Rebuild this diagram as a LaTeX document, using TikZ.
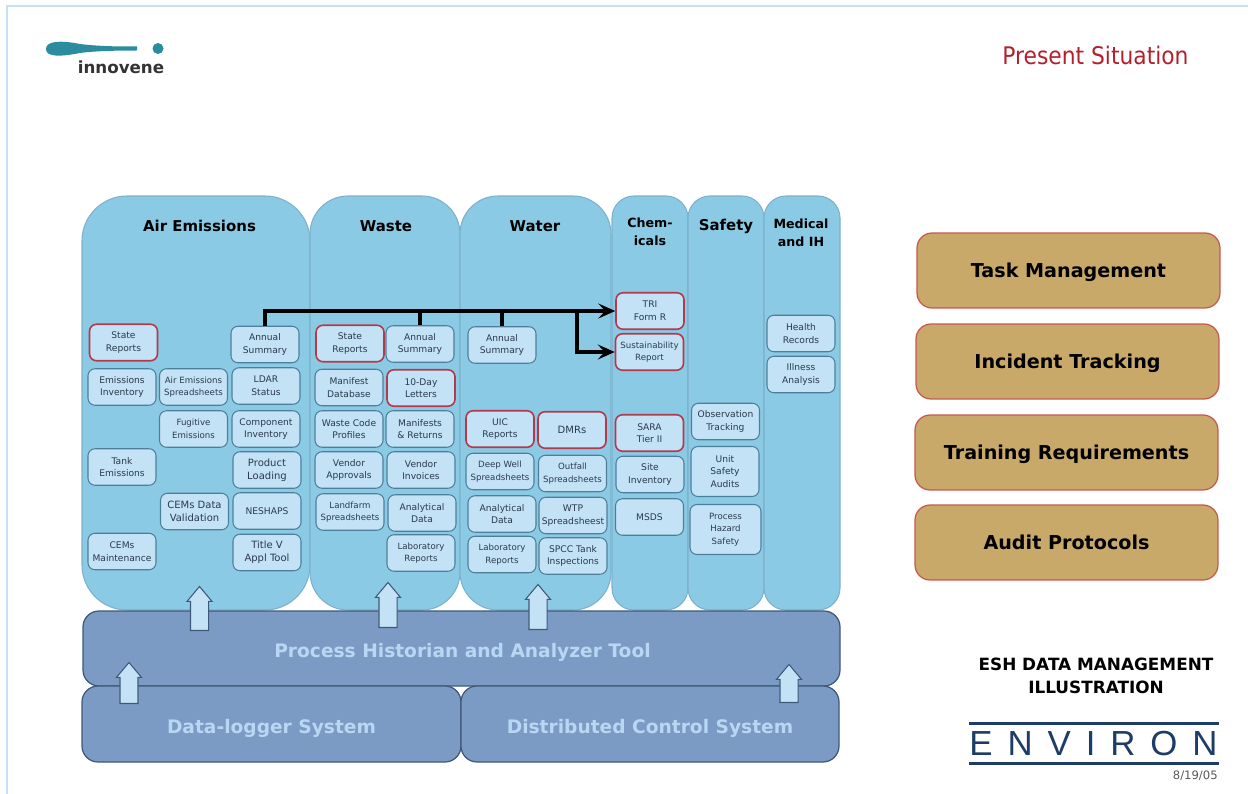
\documentclass[tikz,border=0pt]{standalone}
\usepackage{fontspec}
\setmainfont{DejaVu Sans}
\newfontfamily\titlefont{DejaVu Sans Condensed}
\newfontfamily\brandfont{Liberation Sans}[LetterSpace=43]
\usetikzlibrary{arrows.meta,shapes.arrows}
\definecolor{panelblue}{HTML}{8BCAE4}
\definecolor{paneledge}{HTML}{7DB0CC}
\definecolor{boxblue}{HTML}{C3E2F6}
\definecolor{boxedge}{HTML}{4D7F9A}
\definecolor{boxtext}{HTML}{2B3A4C}
\definecolor{alertred}{HTML}{B23A4C}
\definecolor{barblue}{HTML}{7C9BC4}
\definecolor{baredge}{HTML}{3E5878}
\definecolor{bartext}{HTML}{B7D7F2}
\definecolor{taskbrown}{HTML}{C9A969}
\definecolor{taskedge}{HTML}{C4584F}
\definecolor{slidered}{HTML}{B3202C}
\definecolor{navy}{HTML}{1D3C66}
\definecolor{teal}{HTML}{2A8C9E}
\newcommand{\bigtxt}{\fontsize{5.7}{7.2}\selectfont}
\newcommand{\smalltxt}{\fontsize{4.9}{6.6}\selectfont}
\newcommand{\narrowhead}{\fontsize{7.2}{9.4}\selectfont}
\tikzset{
    infobox/.style={draw=boxedge, fill=boxblue, line width=0.6pt, rounded corners=0.14cm,
        minimum width=1.36cm, minimum height=0.73cm, inner sep=0pt, align=center,
        text=boxtext, font=\fontsize{5.2}{7.2}\selectfont},
    alertbox/.style={infobox, draw=alertred, line width=0.9pt},
    tallbox/.style={infobox, minimum height=1cm},
    heading/.style={font=\bfseries\fontsize{8.5}{10.5}\selectfont, align=center, inner sep=0pt},
    layerbox/.style={draw=baredge, fill=barblue, line width=0.7pt, rounded corners=0.32cm},
    layertext/.style={text=bartext, font=\bfseries\fontsize{10.6}{13}\selectfont, inner sep=0pt},
    taskbox/.style={draw=taskedge, fill=taskbrown, line width=0.7pt, rounded corners=0.3cm,
        minimum width=6.06cm, minimum height=1.5cm, text depth=0pt, font=\bfseries\fontsize{10.9}{13}\selectfont},
    uparrow/.style={single arrow, draw=baredge, fill=boxblue, line width=0.6pt, rotate=90, anchor=tail,
        inner xsep=0pt, inner ysep=0.17cm, single arrow head extend=0.07cm,
        single arrow tip angle=80},
    feedline/.style={draw=black, line width=2pt},
    feedarrow/.style={feedline, -{Stealth[length=0.34cm, width=0.3cm, inset=0.14cm]}}
}
\begin{document}
\begin{tikzpicture}[x=0.02cm, y=-0.02cm]
    \useasboundingbox (0, 0) rectangle (1248, 794);
    \draw[boxblue, line width=0.6pt] (7, 794) -- (7, 6) -- (1248, 6);

    \foreach \xa/\xb/\r in {82/310/0.9, 310/460/0.76, 460/611/0.76, 612/688/0.44, 688/764/0.44, 764/840/0.44} {
        \draw[draw=paneledge, fill=panelblue, line width=0.6pt, rounded corners=\r cm] (\xa, 196) rectangle (\xb, 610);
    }
    \foreach \name/\x/\y/\txt in {air/199.5/226/Air Emissions, waste/386/226/Waste, water/535/226/Water,
        chem/650/232/\narrowhead Chem-\\\narrowhead icals, safety/726/226/Safety, medical/801/233/\narrowhead Medical\\\narrowhead and IH} {
        \node[heading] (\name) at (\x, \y) {\txt};
    }

    \foreach \name/\x/\y/\txt in {
        airannual/265/344.5/Annual\\Summary, emissinv/122/387/Emissions\\Inventory,
        airsheets/193.5/387/\smalltxt Air Emissions\\\smalltxt Spreadsheets, ldar/266/386/LDAR\\Status,
        fugitive/193.5/429/\smalltxt Fugitive\\\smalltxt Emissions, component/266/429/Component\\Inventory,
        tank/122/467/Tank\\Emissions, loading/267/470/\bigtxt Product\\\bigtxt Loading,
        cemsdata/194.5/511.5/\bigtxt CEMs Data\\\bigtxt Validation, neshaps/267/511/NESHAPS,
        titlev/267/552.5/\bigtxt Title V\\\bigtxt Appl Tool, cemsmaint/122/551.5/CEMs\\Maintenance,
        wasteannual/420/344/Annual\\Summary, manifestdb/349/387.5/Manifest\\Database,
        wastecode/349/429/Waste Code\\Profiles, manifests/420/429/Manifests\\\& Returns,
        vendorappr/349/470/Vendor\\Approvals, vendorinv/421/470/Vendor\\Invoices,
        landfarm/350/512/\smalltxt Landfarm\\\smalltxt Spreadsheets, wastedata/422/513/Analytical\\Data,
        wastelab/421/553/\smalltxt Laboratory\\\smalltxt Reports,
        waterannual/502/345/Annual\\Summary, deepwell/500/471.5/\smalltxt Deep Well\\\smalltxt Spreadsheets,
        outfall/572.5/473.5/\smalltxt Outfall\\\smalltxt Spreadsheets, waterdata/502/514/Analytical\\Data,
        wtp/573/515.5/WTP\\Spreadsheest, waterlab/502/554.5/\smalltxt Laboratory\\\smalltxt Reports,
        spcc/573/556/SPCC Tank\\Inspections, site/650/474.5/Site\\Inventory, msds/649.5/517/MSDS,
        observe/725.5/421.5/Observation\\Tracking, health/801/333.5/Health\\Records, illness/801/374.5/Illness\\Analysis} {
        \node[infobox] (\name) at (\x, \y) {\txt};
    }
    \foreach \name/\x/\y/\txt in {
        airstate/123.5/342.5/State\\Reports, wastestate/350/343.5/State\\Reports,
        letters/421/388/10-Day\\Letters, uic/500/429/UIC\\Reports, dmrs/572/430/\bigtxt DMRs,
        tri/650/311/TRI\\Form R, sustain/649.5/352/\smalltxt Sustainability\\\smalltxt Report, sara/649.5/433/SARA\\Tier II} {
        \node[alertbox] (\name) at (\x, \y) {\txt};
    }
    \node[tallbox] (unit) at (725, 471.5) {Unit\\Safety\\Audits};
    \node[tallbox, minimum width=1.42cm] (hazard) at (725.5, 529.5) {\smalltxt Process\\\smalltxt Hazard\\\smalltxt Safety};

    \coordinate (branch) at (577, 311);
    \draw[feedarrow] (airannual.north) |- (tri.west);
    \draw[feedline] (wasteannual.north) -- (wasteannual.north |- tri.west);
    \draw[feedline] (waterannual.north) -- (waterannual.north |- tri.west);
    \draw[feedarrow] (branch) |- (sustain.west);

    \draw[layerbox] (83, 611) rectangle (840, 686);
    \draw[layerbox] (82, 686) rectangle (461, 762);
    \draw[layerbox] (461, 686) rectangle (839, 762);
    \node[layertext] (historian) at (462.5, 652) {Process Historian and Analyzer Tool};
    \node[layertext] (logger) at (271.5, 728) {Data-logger System};
    \node[layertext] (control) at (650, 728) {Distributed Control System};

    \foreach \name/\x/\y/\len in {airup/199.5/631/0.88, wasteup/388/628/0.9, waterup/538/630/0.9,
        loggerup/129/704/0.82, controlup/789/703/0.76} {
        \node[uparrow, minimum height=\len cm] (\name) at (\x, \y) {};
    }

    \foreach \name/\x/\y/\txt in {taskmgmt/1068.5/270.5/Task Management, incident/1067.5/361.5/Incident Tracking,
        training/1066.5/452.5/Training Requirements, audit/1066.5/542.5/Audit Protocols} {
        \node[taskbox] (\name) at (\x, \y) {\txt};
    }

    \node[text=slidered, font=\titlefont\fontsize{13.8}{16}\selectfont, inner sep=0pt] (present) at (1095.5, 55) {Present Situation};
    \node[font=\bfseries\fontsize{9.6}{13}\selectfont, align=center, inner sep=0pt] (esh) at (1096, 675.5) {ESH DATA MANAGEMENT\\ILLUSTRATION};
    \fill[navy] (969, 722) rectangle (1219, 725);
    \fill[navy] (969, 762) rectangle (1219, 765);
    \node[text=navy, font=\brandfont\fontsize{19.8}{22}\selectfont, anchor=west, inner sep=0pt] (environ) at (969, 744) {ENVIRON};
    \node[text=black!65, font=\fontsize{6.6}{8}\selectfont, anchor=east, inner sep=0pt] (stamp) at (1218, 776) {8/19/05};

    \fill[teal] (46, 49) .. controls (46, 41) and (60, 40) .. (80, 44) .. controls (100, 46.5) and (120, 46.5) .. (137, 46.5)
        -- (137, 50.5) .. controls (115, 50.5) and (95, 51) .. (80, 53) .. controls (60, 57) and (46, 57) .. (46, 49);
    \fill[teal] (158, 48.5) circle (5.5);
    \node[font=\bfseries\fontsize{9.5}{11}\selectfont, text=black!80, inner sep=0pt] (innovene) at (121, 67) {innovene};
\end{tikzpicture}
\end{document}
